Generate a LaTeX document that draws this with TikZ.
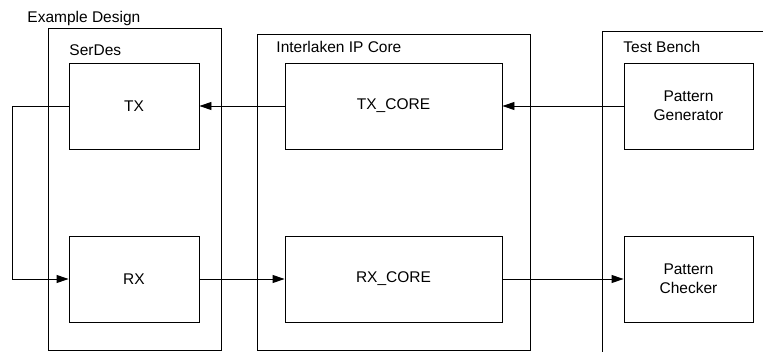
\documentclass[tikz,border=0pt]{standalone}
\usepackage{fontspec}
\setmainfont{Liberation Sans}
\usetikzlibrary{arrows.meta}
\begin{document}
\begin{tikzpicture}[x=1pt,y=-1pt,
  line width=0.9pt,
  txt/.style={font=\fontsize{15.5}{19}\selectfont},
  block/.style={draw, txt, align=center, inner sep=0pt,
    minimum width=#1, minimum height=86pt},
  group/.style={draw, inner sep=0pt},
  caption/.style={txt, anchor=base west, inner sep=0pt},
  arr/.style={-{Triangle[length=12pt,width=8pt]}}]
\useasboundingbox (0,0) rectangle (763,351);

% container outlines
\node[group, minimum width=173pt, minimum height=322pt] (serdes) at (134.5,189) {};
\node[group, minimum width=273pt, minimum height=316pt] (ilkn) at (393.5,192) {};
\node[group, minimum width=190pt, minimum height=340pt] (tb) at (697,201) {};

% container captions
\node[caption] (exd) at (27,22.5) {Example Design};
\node[caption] (serdeslbl) at (69,55.5) {SerDes};
\node[caption] (ilknlbl) at (276,52.5) {Interlaken IP Core};
\node[caption] (tblbl) at (623,52.5) {Test Bench};

% functional blocks
\node[block=130pt] (tx) at (134,106) {TX};
\node[block=130pt] (rx) at (134,279) {RX};
\node[block=217pt] (txc) at (393.5,106) {TX\_CORE};
\node[block=217pt] (rxc) at (393.5,279) {RX\_CORE};
\node[block=129pt] (pg) at (688.5,106) {Pattern\\Generator};
\node[block=129pt] (pc) at (688.5,279) {Pattern\\Checker};

% data paths
\coordinate (loop) at (12,106);
\draw[arr] (pg.west) -- (txc.east);
\draw[arr] (txc.west) -- (tx.east);
\draw[arr] (tx.west) -- (loop) |- (rx.west);
\draw[arr] (rx.east) -- (rxc.west);
\draw[arr] (rxc.east) -- (pc.west);
\end{tikzpicture}
\end{document}
